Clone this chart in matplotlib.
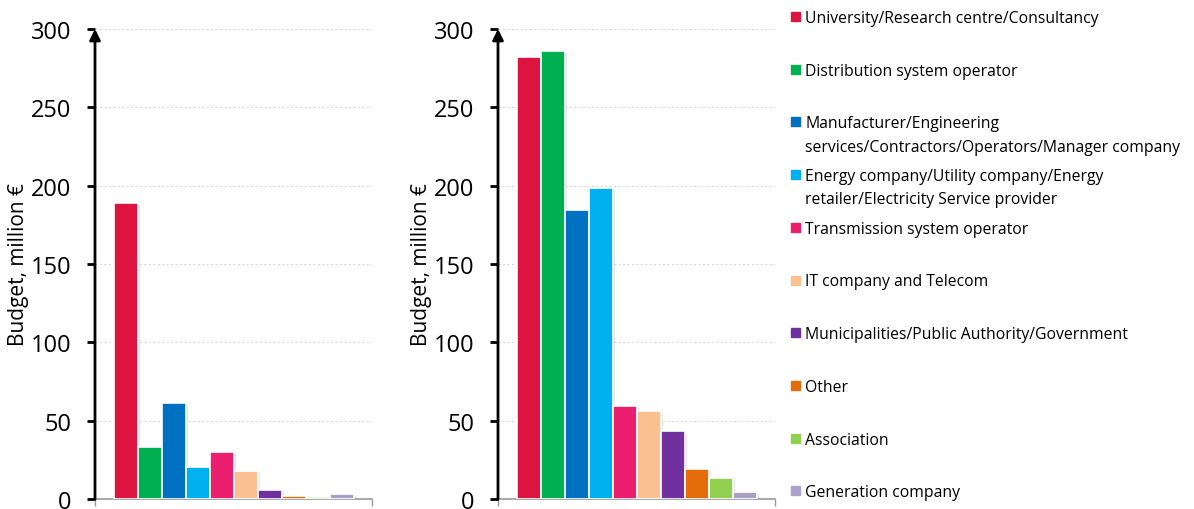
import matplotlib.pyplot as plt
import matplotlib.patheffects as pe

plt.rcParams['font.family'] = ['Open Sans', 'DejaVu Sans']

# categories and colours
categories = ['University/Research centre/Consultancy',
              'Distribution system operator',
              'Manufacturer/Engineering\nservices/Contractors/Operators/Manager company',
              'Energy company/Utility company/Energy\nretailer/Electricity Service provider',
              'Transmission system operator',
              'IT company and Telecom',
              'Municipalities/Public Authority/Government',
              'Other',
              'Association',
              'Generation company']
colors = ['#DE1440', '#00B050', '#0070C0', '#00B0F0', '#EC1E6E',
          '#FAC090', '#7030A0', '#E46C0A', '#92D050', '#ABA0C8']

# budget values, million euro
budget_left = [189, 33, 61, 20.5, 30, 18, 6, 2, 1.5, 3.3]
budget_right = [282, 286, 184.5, 198.5, 59.5, 56, 43.3, 19, 13.5, 4.7]

W, H = 1194, 510
fig = plt.figure(figsize=(W / 100, H / 100), dpi=100)

shadow = [pe.SimplePatchShadow(offset=(1.5, -1.5), alpha=0.12), pe.Normal()]


def draw_panel(ax, values):
    x = range(len(values))
    ax.bar(x, values, width=1.0, color=colors, edgecolor='white',
           linewidth=1.2, path_effects=shadow, zorder=3)
    ax.set_ylim(0, 300)
    ax.set_xlim(-1.3, 10.25)
    ax.set_yticks([0, 50, 100, 150, 200, 250, 300])
    ax.tick_params(axis='y', length=6, width=2, pad=11, labelsize=17,
                   color='black')
    ax.set_xticks([-1.3, 10.25])
    ax.set_xticklabels([])
    ax.tick_params(axis='x', length=5, width=1, color='#999999',
                   direction='out')
    ax.grid(axis='y', linestyle=(0, (2, 2)), color='#d9d9d9', linewidth=0.8,
            zorder=0)
    for s in ['top', 'right', 'left']:
        ax.spines[s].set_visible(False)
    ax.spines['bottom'].set_color('#999999')
    ax.spines['bottom'].set_linewidth(1.2)
    ax.annotate('', xy=(0, 1.0), xytext=(0, 0), xycoords='axes fraction',
                arrowprops=dict(arrowstyle='-|>', color='black', lw=2,
                                mutation_scale=16, shrinkA=0, shrinkB=0),
                annotation_clip=False)
    ax.set_ylabel('Budget, million €', fontsize=15, labelpad=1)


ax1 = fig.add_axes([95 / W, 1 - 500 / H, 277 / W, 470 / H])
draw_panel(ax1, budget_left)
ax2 = fig.add_axes([498 / W, 1 - 500 / H, 277 / W, 470 / H])
draw_panel(ax2, budget_right)

# legend, drawn by hand to follow the spacing of the reference
y0, step = 17, 52.7
for i, (lab, c) in enumerate(zip(categories, colors)):
    y = y0 + i * step
    fig.patches.append(plt.Rectangle((791 / W, 1 - (y + 5) / H), 9 / W, 9 / H,
                                     transform=fig.transFigure, color=c))
    fig.text(805 / W, 1 - (y - 6) / H, lab, fontsize=11.3, va='top', ha='left',
             linespacing=1.6)

fig.savefig('out.png', dpi=100)
